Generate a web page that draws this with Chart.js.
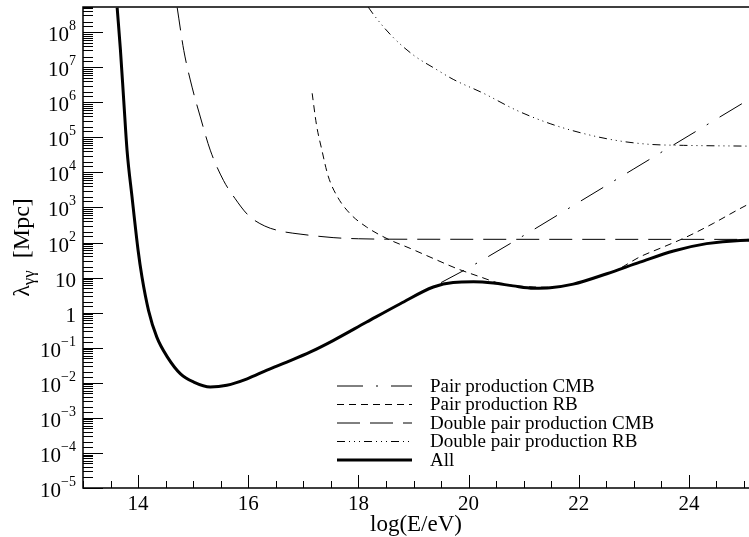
<!DOCTYPE html>
<html>
<head>
<meta charset="utf-8">
<script src="https://cdn.jsdelivr.net/npm/chart.js@4.4.1/dist/chart.umd.min.js"></script>
<style>
  html, body { margin: 0; padding: 0; background: #fff; }
</style>
</head>
<body>
<canvas id="chart" width="749" height="537"></canvas>
<script>
// Mean free path of photons vs energy
// x: log(E/eV), y: lambda_gg in Mpc

const pairCmbX = [19.5, 20.0, 21.0, 22.0, 23.0, 24.0, 25.1];
const pairCmbY = [7.2, 19, 158, 1410, 1.26e4, 1.12e5, 1.23e6];

const pairRbX = [17.16, 17.24, 17.33, 17.45, 17.62, 17.85, 18.15, 18.52, 18.94, 19.36, 19.79, 20.21, 20.57,
                 21.0, 21.5, 22.0, 22.3, 22.68, 23.11, 23.53, 23.96, 24.44, 24.87, 25.1];
const pairRbY = [1.8e6, 2.2e5, 4.8e4, 7.9e3, 2.0e3, 660, 275, 129, 68, 35, 18, 10.5, 6.8,
                 5.6, 5.3, 7.2, 10, 16.2, 39, 74, 145, 350, 830, 1290];

const doubleCmbX = [14.71, 14.83, 14.98, 15.13, 15.31, 15.55, 15.76, 16.0, 16.3, 16.6, 16.94, 17.54, 18.0, 19.0, 25.1];
const doubleCmbY = [5.0e8, 3.0e7, 2.7e6, 3.8e5, 4.3e4, 5.9e3, 1.8e3, 600, 295, 210, 174, 138, 128, 124, 123];

const doubleRbX = [18.18, 18.3, 18.6, 19.0, 19.4, 19.72, 20.27, 20.87, 21.48, 22.08, 22.69, 23.29, 23.9, 25.1];
const doubleRbY = [5.1e8, 2.8e8, 7.9e7, 2.2e7, 8.9e6, 4.5e6, 1.8e6, 5.9e5, 2.45e5, 1.29e5, 8.1e4, 6.3e4, 5.9e4, 5.6e4];

const allX = [13.62, 13.68, 13.74, 13.80, 13.89, 14.00, 14.07, 14.19, 14.34, 14.53, 14.77, 15.01, 15.31, 15.61,
              15.98, 16.34, 16.70, 17.13, 17.54, 18.15, 18.76, 19.36, 19.72, 20.09, 20.45, 20.81, 21.18, 21.48,
              21.90, 22.51, 23.11, 23.72, 24.32, 24.93, 25.1];
const allY = [5.0e8, 3.0e7, 1.1e6, 4.2e4, 2.0e3, 60, 10.5, 1.15, 0.20, 0.055, 0.018, 0.0105, 0.0076, 0.0085,
              0.013, 0.023, 0.039, 0.076, 0.16, 0.54, 1.8, 5.4, 7.3, 7.6, 7.0, 5.8, 5.0, 5.15,
              6.5, 12.9, 27.5, 57.5, 93, 115, 116];

const seriesNames = ['Pair production CMB', 'Pair production RB', 'Double pair production CMB',
                     'Double pair production RB', 'All'];
const xTickLabels = [14, 16, 18, 20, 22, 24];
const xRange = [13, 25.09];
const yRange = [1e-5, 5.2e8];

const serif = "'Liberation Serif', 'Times New Roman', serif";

function points(xs, ys) {
    return xs.map((x, i) => ({ x: x, y: ys[i] }));
}

function lineSet(label, xs, ys, dash, width) {
    return {
        label: label,
        data: points(xs, ys),
        borderColor: '#000',
        borderWidth: width,
        borderDash: dash,
        pointRadius: 0,
        fill: false,
        cubicInterpolationMode: 'monotone'
    };
}

// Inward ticks, frame, superscript labels, axis titles and legend
const decorations = {
    id: 'decorations',
    afterDraw(chart) {
        const ctx = chart.ctx;
        const a = chart.chartArea;
        const xs = chart.scales.x;
        const ys = chart.scales.y;
        ctx.save();
        ctx.strokeStyle = '#000';
        ctx.fillStyle = '#000';

        // frame (right side runs off the picture)
        ctx.lineWidth = 1.5;
        ctx.beginPath();
        ctx.moveTo(a.right + 2, a.top);
        ctx.lineTo(a.left, a.top);
        ctx.lineTo(a.left, a.bottom);
        ctx.lineTo(a.right + 2, a.bottom);
        ctx.stroke();

        // y ticks and labels
        ctx.lineWidth = 1;
        ys.ticks.forEach(t => {
            if (t.value > yRange[1]) return;
            const p = Math.round(ys.getPixelForValue(t.value)) + 0.5;
            const e = Math.log10(t.value);
            const n = Math.round(e);
            const major = Math.abs(e - n) < 1e-9;
            ctx.beginPath();
            ctx.moveTo(a.left, p);
            ctx.lineTo(a.left + (major ? 20 : 10), p);
            ctx.stroke();
            if (!major) return;
            const right = 76;
            const base = p + 8;
            ctx.textBaseline = 'alphabetic';
            ctx.textAlign = 'right';
            if (n === 0 || n === 1) {
                ctx.font = '21px ' + serif;
                ctx.fillText(n === 0 ? '1' : '10', right, base);
            } else {
                const sup = (n < 0 ? '\u2212' : '') + Math.abs(n);
                ctx.font = '14px ' + serif;
                const sw = ctx.measureText(sup).width;
                ctx.fillText(sup, right, base - 10.5);
                ctx.font = '21px ' + serif;
                ctx.fillText('10', right - sw, base);
            }
        });

        // x ticks
        xs.ticks.forEach(t => {
            const p = Math.round(xs.getPixelForValue(t.value)) + 0.5;
            const major = xTickLabels.includes(t.value);
            ctx.beginPath();
            ctx.moveTo(p, a.bottom);
            ctx.lineTo(p, a.bottom - (major ? 13 : 7));
            ctx.stroke();
        });

        // x title
        ctx.textAlign = 'center';
        ctx.textBaseline = 'middle';
        ctx.font = '23px ' + serif;
        ctx.fillText('log(E/eV)', (a.left + a.right) / 2, 525);

        // y title with subscript
        ctx.save();
        ctx.translate(21, (a.top + a.bottom) / 2);
        ctx.rotate(-Math.PI / 2);
        ctx.textAlign = 'left';
        ctx.textBaseline = 'alphabetic';
        const mainFont = '24px ' + serif;
        const subFont = '17px ' + serif;
        ctx.font = mainFont;
        const w1 = ctx.measureText('\u03bb').width;
        const w3 = ctx.measureText('  [Mpc]').width;
        ctx.font = subFont;
        const w2 = ctx.measureText('\u03b3\u03b3').width;
        let cx = -(w1 + w2 + w3) / 2;
        ctx.font = mainFont;
        ctx.fillText('\u03bb', cx, 8);
        cx += w1;
        ctx.font = subFont;
        ctx.fillText('\u03b3\u03b3', cx, 13);
        cx += w2;
        ctx.font = mainFont;
        ctx.fillText('  [Mpc]', cx, 8);
        ctx.restore();

        // legend
        ctx.font = '19px ' + serif;
        ctx.textAlign = 'left';
        ctx.textBaseline = 'middle';
        chart.data.datasets.forEach((ds, i) => {
            const yy = 386 + i * 18.5;
            ctx.save();
            ctx.lineWidth = ds.borderWidth;
            ctx.setLineDash(ds.borderDash || []);
            ctx.beginPath();
            ctx.moveTo(337, yy);
            ctx.lineTo(412, yy);
            ctx.stroke();
            ctx.restore();
            ctx.fillText(ds.label, 430, yy + 1);
        });

        ctx.restore();
    }
};

const chart = new Chart(document.getElementById('chart'), {
    type: 'line',
    data: {
        datasets: [
            lineSet(seriesNames[0], pairCmbX, pairCmbY, [26, 13, 2, 13], 1),
            lineSet(seriesNames[1], pairRbX, pairRbY, [7, 5], 1),
            lineSet(seriesNames[2], doubleCmbX, doubleCmbY, [23, 10], 1),
            lineSet(seriesNames[3], doubleRbX, doubleRbY, [8, 4, 1, 4, 1, 4, 1, 4], 1),
            lineSet(seriesNames[4], allX, allY, [], 3)
        ]
    },
    options: {
        responsive: false,
        animation: false,
        devicePixelRatio: 1,
        layout: { padding: { top: 7, right: 0, left: 0, bottom: 0 } },
        plugins: {
            legend: { display: false },
            tooltip: { enabled: false }
        },
        scales: {
            x: {
                type: 'linear',
                min: xRange[0],
                max: xRange[1],
                afterBuildTicks(scale) {
                    const ticks = [];
                    for (let v = xRange[0]; v <= xRange[1] + 1e-9; v += 0.5) ticks.push({ value: v });
                    scale.ticks = ticks;
                },
                afterFit(scale) { scale.height = 49; },
                grid: { display: false, drawTicks: false },
                border: { display: false },
                ticks: {
                    autoSkip: false,
                    maxRotation: 0,
                    padding: 4,
                    color: '#000',
                    font: { family: serif, size: 21 },
                    callback: v => xTickLabels.includes(v) ? String(v) : ''
                }
            },
            y: {
                type: 'logarithmic',
                min: yRange[0],
                max: yRange[1],
                afterFit(scale) { scale.width = 83; },
                grid: { display: false, drawTicks: false },
                border: { display: false },
                ticks: { display: false }
            }
        }
    },
    plugins: [decorations]
});
</script>
</body>
</html>
